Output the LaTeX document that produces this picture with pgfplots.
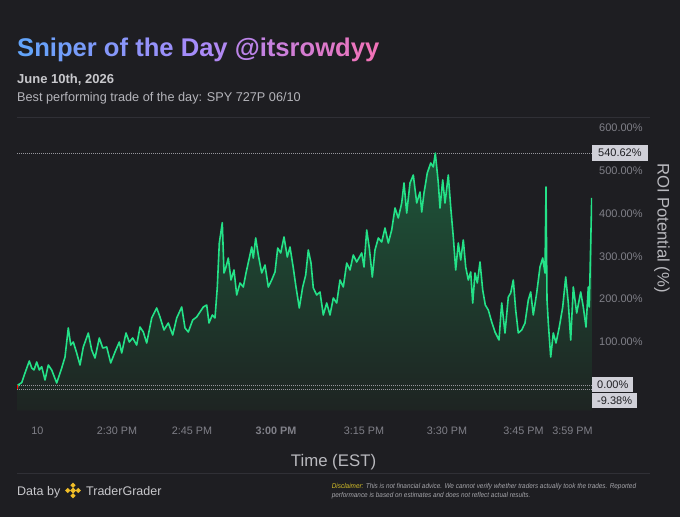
\documentclass[border=0pt]{standalone}
\usepackage{pgfplots}
\pgfplotsset{compat=1.18}
\usepackage{pgfplotstable}
\usepackage{fontspec}
\setmainfont{Liberation Sans}
\definecolor{bg}{RGB}{30,30,34}
\definecolor{sepc}{RGB}{48,48,54}
\definecolor{tickc}{RGB}{128,128,136}
\definecolor{lblc}{RGB}{185,185,190}
\definecolor{linec}{RGB}{36,226,136}
\definecolor{filltop}{RGB}{30,86,58}
\definecolor{fillbot}{RGB}{30,36,34}
\definecolor{boxc}{RGB}{208,208,216}
\definecolor{c1}{RGB}{96,165,250}
\definecolor{c2}{RGB}{167,139,250}
\definecolor{c3}{RGB}{244,114,182}
\definecolor{discy}{RGB}{212,190,40}
\definecolor{logoy}{RGB}{240,190,40}
\newcommand\cc[2]{\textcolor{#1}{#2}}

\pgfplotstableread{
x y
17 -9.38
18 0
21.7 5.4
25 28.0
29.3 55.9
31.7 39.6
34 35.0
36.7 53.6
39.3 35.0
41.7 42.7
45 11.7
48.3 46.6
51.7 35.0
56.7 4.7
61.7 39.6
65 65.3
68.3 132.9
70.7 93.2
73.3 100.2
76.7 74.6
80 46.6
83.3 88.6
88.3 121.2
91.7 81.6
95 62.9
99.3 109.6
102.7 86.2
106.7 88.6
110.7 51.3
115 76.9
119.3 100.2
121.7 74.6
126 121.2
129.3 100.2
132.7 109.6
136.7 93.2
140 135.2
143.3 123.5
146.7 97.9
151.7 156.2
156.7 179.5
160 158.5
164 128.2
168.3 144.5
172.7 116.6
176.7 156.2
181.7 181.8
185 132.9
188.3 123.5
192.7 151.5
196.7 158.5
200 170.2
203.3 181.8
206.7 186.5
209 144.5
212.3 163.2
215 156.2
217.3 228.4
219.3 331.0
222.3 378.3
224 261.1
226 275.1
228.3 296.0
231 244.8
234 268.1
236.7 209.8
240 237.8
243.3 228.4
246 261.1
249.3 296.0
251.7 321.7
253.3 296.0
255.7 342.7
258.3 303.0
261.7 261.1
265 279.7
268.3 228.4
271.7 244.8
275 263.4
277.7 319.3
280.7 307.7
284 345.0
287.3 298.4
290 321.7
293.3 272.7
296 228.4
299.3 179.5
302.7 228.4
305.7 256.4
308.3 314.7
311 284.4
313.3 226.1
316.7 209.8
320 216.8
323.3 163.2
326.7 191.1
330 163.2
333.3 202.8
336.7 191.1
340 244.8
343.3 228.4
346.7 284.4
350 268.1
353.3 303.0
356.7 286.7
361.7 307.7
364 275.1
366.7 361.3
369.3 319.3
372.3 251.7
375 314.7
378.3 342.7
381.7 333.3
385 366.0
388.3 331.0
391.7 361.3
395 412.6
398.3 389.3
401.7 424.2
404 470.9
406.7 400.9
410 470.9
413.3 489.5
416.7 424.2
420 449.9
421.7 403.3
424 447.6
427.3 494.2
430.7 517.5
433.3 508.2
435.3 540.62
438.3 470.9
440 412.6
442.7 477.9
445 424.2
448.3 489.5
450.7 414.9
453.3 345.0
455.7 268.1
458.3 331.0
460.7 291.4
463.3 338.0
465.7 275.1
468.3 244.8
470.7 263.4
472.7 191.1
475 261.1
477.3 237.8
480 286.7
482.7 221.4
485.3 186.5
488.3 174.8
491.7 146.9
495 123.5
499 104.9
501.7 191.1
505 121.2
508.3 205.1
510.7 214.5
513.3 244.8
515.7 174.8
518.3 121.2
521.7 128.2
525 144.5
528.3 198.1
530.7 216.8
533.3 163.2
536.7 214.5
540 275.1
542.7 296.0
545 261.1
546 461.5
547 198.1
548.3 144.5
550.7 65.3
553.3 121.2
556 97.9
559.3 135.2
562.7 181.8
565.7 251.7
568.3 191.1
570.7 104.9
573.3 228.4
576.7 167.8
580.7 216.8
583.3 181.8
586 135.2
588.3 228.4
589.3 181.8
591.7 435.9
}\roi

\begin{document}
\begin{tikzpicture}[x=1pt,y=1pt]
\fill[bg] (0,0) rectangle (680,517);
\draw[sepc, line width=0.8pt] (17,400) -- (650,400);
\draw[sepc, line width=0.8pt] (17,44) -- (650,44);

% title
\node[anchor=base west, inner sep=0pt, font=\fontsize{25.6}{30}\selectfont\bfseries] at (17,460)
{\cc{c2!5!c1}{S}\cc{c2!14!c1}{n}\cc{c2!22!c1}{i}\cc{c2!26!c1}{p}\cc{c2!34!c1}{e}\cc{c2!41!c1}{r} \cc{c2!52!c1}{o}\cc{c2!59!c1}{f} \cc{c2!68!c1}{t}\cc{c2!74!c1}{h}\cc{c2!82!c1}{e} \cc{c2!96!c1}{D}\cc{c3!5!c2}{a}\cc{c3!12!c2}{y} \cc{c3!27!c2}{@}\cc{c3!36!c2}{i}\cc{c3!40!c2}{t}\cc{c3!47!c2}{s}\cc{c3!53!c2}{r}\cc{c3!60!c2}{o}\cc{c3!70!c2}{w}\cc{c3!80!c2}{d}\cc{c3!88!c2}{y}\cc{c3!96!c2}{y}};
\node[anchor=base west, inner sep=0pt, text={rgb,255:red,200;green,200;blue,204}, font=\fontsize{13}{15}\selectfont\bfseries] at (17,433) {June 10th, 2026};
\node[anchor=base west, inner sep=0pt, text={rgb,255:red,180;green,180;blue,186}, font=\fontsize{12.7}{15}\selectfont] at (17,415.5) {Best performing trade of the day: SPY 727P 06/10};

\begin{axis}[
  at={(17pt,107pt)}, anchor=south west,
  width=575pt, height=293pt, scale only axis,
  xmin=17, xmax=592, ymin=-58.3, ymax=624.7,
  axis line style={draw=none},
  major tick length=0pt,
  /pgf/number format/assume math mode=true,
  ytick={100,200,300,400,500,600},
  yticklabels={100.00\%,200.00\%,300.00\%,400.00\%,500.00\%,600.00\%},
  yticklabel pos=right,
  yticklabel style={anchor=west, xshift=7pt, inner sep=0pt, font=\fontsize{11}{13}\selectfont, text=tickc},
  xtick={37.5,117,192,276,364,447,523.5,572.5},
  xticklabels={10,2:30 PM,2:45 PM,\textbf{3:00 PM},3:15 PM,3:30 PM,3:45 PM,3:59 PM},
  xticklabel style={anchor=base, yshift=-24pt, inner sep=0pt, font=\fontsize{10.8}{13}\selectfont, text=tickc},
]
\addplot[draw=none, top color=filltop, bottom color=fillbot] table {\roi} -- (axis cs:592,-60) -- (axis cs:17,-60) -- cycle;
\addplot[color={rgb,255:red,150;green,150;blue,156}, line width=0.7pt, dash pattern=on 0.8pt off 1.2pt] coordinates {(17,540.62) (592,540.62)};
\addplot[color={rgb,255:red,150;green,150;blue,156}, line width=0.7pt, dash pattern=on 0.8pt off 1.2pt] coordinates {(17,0) (592,0)};
\addplot[color={rgb,255:red,150;green,150;blue,156}, line width=0.7pt, dash pattern=on 0.8pt off 1.2pt] coordinates {(17,-9.38) (592,-9.38)};
\addplot[linec, line width=1.6pt, line join=round] table {\roi};
\addplot[red, line width=1.2pt] coordinates {(17.5,0) (17.5,-9.38)};
\coordinate (bA) at (axis cs:592,540.62);
\coordinate (bB) at (axis cs:592,0);
\coordinate (bC) at (axis cs:592,-9.38);
\end{axis}

\tikzset{vbox/.style={anchor=west, fill=boxc, text={rgb,255:red,30;green,30;blue,34}, inner xsep=6pt, inner ysep=3.8pt, font=\fontsize{11}{13}\selectfont}}
\node[vbox] at (bA) {540.62\%};
\node[vbox, inner xsep=5pt, inner ysep=3.2pt] at ([yshift=0.5pt]bB) {0.00\%};
\node[vbox, inner xsep=5pt, inner ysep=3.2pt] at ([yshift=-11.5pt]bC) {-9.38\%};

\node[rotate=-90, text=lblc, inner sep=0pt, font=\fontsize{16.7}{20}\selectfont] at (662,289) {ROI Potential (\%)};
\node[text=lblc, inner sep=0pt, font=\fontsize{16.8}{20}\selectfont] at (333.5,55) {Time (EST)};

% footer
\node[anchor=base west, inner sep=0pt, text={rgb,255:red,200;green,200;blue,204}, font=\fontsize{12.5}{15}\selectfont] at (17,22) {Data by};
\foreach \dx/\dy/\r in {0/0/3, 5.2/0/2.6, -5.2/0/2.6, 0/5.2/2.6, 0/-5.2/2.6}
  \fill[logoy] (73+\dx,26.5+\dy+\r) -- (73+\dx+\r,26.5+\dy) -- (73+\dx,26.5+\dy-\r) -- (73+\dx-\r,26.5+\dy) -- cycle;
\node[anchor=base west, inner sep=0pt, text={rgb,255:red,200;green,200;blue,204}, font=\fontsize{12.5}{15}\selectfont] at (86,22) {TraderGrader};
\node[anchor=base west, inner sep=0pt, xscale=0.9, text={rgb,255:red,165;green,165;blue,170}, font=\fontsize{7.1}{8}\selectfont\itshape] at (331.7,29) {\textcolor{discy}{Disclaimer:} This is not financial advice. We cannot verify whether traders actually took the trades. Reported};
\node[anchor=base west, inner sep=0pt, xscale=0.9, text={rgb,255:red,165;green,165;blue,170}, font=\fontsize{7.1}{8}\selectfont\itshape] at (331.7,19.5) {performance is based on estimates and does not reflect actual results.};
\end{tikzpicture}
\end{document}
